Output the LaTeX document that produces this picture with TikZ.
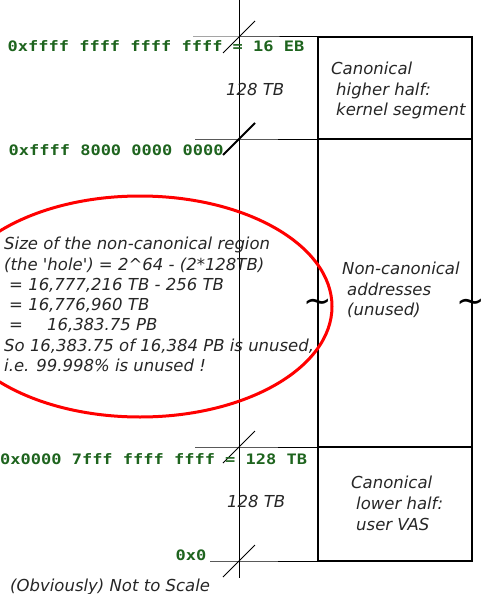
\documentclass[tikz,border=0pt]{standalone}
\usepackage{fontspec}
\setmainfont{DejaVu Sans}
\newfontfamily\hexfont[FakeStretch=1.18]{DejaVu Sans Mono}
\definecolor{hexgreen}{RGB}{30,100,30}
\definecolor{notegray}{RGB}{38,38,38}

\begin{document}
\begin{tikzpicture}[x=1pt, y=-1pt,
    hex/.style={font=\hexfont\bfseries\fontsize{14.4}{17}\selectfont, text=hexgreen, inner sep=0, anchor=base west},
    note/.style={font=\itshape\fontsize{16.5}{20.3}\selectfont, text=notegray, inner sep=0, anchor=base west, align=left},
    tick/.style={black, line width=1pt},
    tilde/.style={font=\fontsize{34}{34}\selectfont, inner sep=0, anchor=base}]
    \useasboundingbox (0,0) rectangle (482,594);

    % Niveles
    \coordinate (top) at (239,37);
    \coordinate (khalf) at (239,139);
    \coordinate (uhalf) at (239,447);
    \coordinate (zero) at (239,561);

    % Eje y marcas
    \draw[tick] (239,0) -- (239,578);
    \draw[tick] (193,37) -- (top) -- (318,37);
    \draw[tick] (195,139) -- (khalf) -- (318,139);
    \draw[tick] (195,447) -- (uhalf) -- (318,447);
    \draw[tick] (210,561) -- (zero) -- (318,561);
    \foreach \lvl in {top,uhalf,zero}
        \draw[tick] (\lvl) ++(-16,16) -- ++(32,-32);
    \draw[tick, line width=2pt] (khalf) ++(-16,16) -- ++(32,-32);

    % Caja del espacio de direcciones
    \draw[black, line width=2pt] (318,37) rectangle (472,561);
    \draw[black, line width=2pt] (318,139) -- (472,139);
    \draw[black, line width=2pt] (318,447) -- (472,447);

    % Elipse roja
    \draw[red, line width=3pt] (140,306.5) ellipse [x radius=192, y radius=110.5];

    % Direcciones
    \node[hex] (maxaddr) at (7.5,52) {0xffff ffff ffff ffff = 16 EB};
    \node[hex] (kstart) at (8.5,155) {0xffff 8000 0000 0000};
    \node[hex] (uend) at (0,464) {0x0000 7fff ffff ffff = 128 TB};
    \node[hex] (nulladdr) at (175.5,560) {0x0};

    % Tamanos
    \node[note] (ksize) at (226,95) {128 TB};
    \node[note] (usize) at (227,507) {128 TB};

    % Textos de la caja (base = ultima linea)
    \node[note] (ktext) at (331,115.5) {Canonical\\\hspace*{5pt}higher half:\\\hspace*{5pt}kernel segment};
    \node[note] (holetext) at (342,315.5) {Non-canonical\\\hspace*{5pt}addresses\\\hspace*{5pt}(unused)};
    \node[note, font=\itshape\fontsize{16.5}{21}\selectfont] (utext) at (351,530) {Canonical\\\hspace*{5pt}lower half:\\\hspace*{5pt}user VAS};

    % Cuenta del hueco
    \node[note] (calc) at (4,371.5) {Size of the non-canonical region\\
        (the \textquotesingle hole\textquotesingle) = 2\textasciicircum64 - (2*128TB)\\
        \hspace*{5pt}= 16,777,216 TB - 256 TB\\
        \hspace*{5pt}= 16,776,960 TB\\
        \hspace*{5pt}=\hspace*{24pt}16,383.75 PB\\
        So 16,383.75 of 16,384 PB is unused,\\
        i.e. 99.998\% is unused !};

    % Tildes
    \node[tilde] (ltilde) at (318,312) {\textasciitilde};
    \node[tilde] (rtilde) at (471,312) {\textasciitilde};

    \node[note] (scale) at (10,591) {(Obviously) Not to Scale};
\end{tikzpicture}
\end{document}
